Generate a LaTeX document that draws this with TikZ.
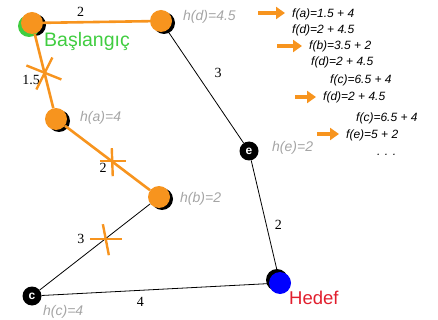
\documentclass[tikz,border=0pt]{standalone}
\usepackage{fontspec}
\setmainfont{Liberation Serif}
\newfontfamily\libsans{Liberation Sans}
\usetikzlibrary{arrows.meta,shadows}

\definecolor{bulborange}{RGB}{247,148,30}
\definecolor{startgreen}{RGB}{64,205,64}
\definecolor{goalred}{RGB}{225,30,45}
\definecolor{hgray}{RGB}{165,165,165}

\begin{document}
\begin{tikzpicture}[x=1pt,y=-1pt,
    openv/.style={circle,fill=bulborange,minimum size=22pt,inner sep=0pt,
        drop shadow={shadow xshift=3pt,shadow yshift=-2pt,fill=black,opacity=1}},
    closedv/.style={circle,fill=black,minimum size=19pt,inner sep=0pt,
        text=white,font=\libsans\bfseries\fontsize{12}{12}\selectfont},
    route/.style={draw=bulborange,line width=2.6pt},
    edge/.style={draw=black,line width=0.8pt},
    cut/.style={draw=bulborange,line width=2.4pt},
    wlabel/.style={font=\fontsize{14}{14}\selectfont,inner sep=1pt},
    hlabel/.style={font=\libsans\itshape\fontsize{14}{14}\selectfont,text=hgray,anchor=west,inner sep=0pt},
    fline/.style={font=\libsans\itshape\fontsize{12}{13}\selectfont,anchor=west,inner sep=0pt},
    farrow/.style={draw=bulborange,line width=4pt,-{Triangle[length=9pt,width=12pt]},shorten >=7pt}
  ]
  \useasboundingbox (0,0) rectangle (438,320);

  % nodes
  \node[openv,drop shadow={shadow xshift=-3pt,shadow yshift=-3pt,fill=startgreen,opacity=1}] (s) at (32,23) {};
  \node[openv] (d) at (161,21) {};
  \node[openv] (a) at (56,119) {};
  \node[openv] (b) at (159,197) {};
  \node[closedv] (c) at (32,296) {c};
  \node[closedv] (e) at (249,151) {e};
  \node[circle,fill=blue,minimum size=22pt,inner sep=0pt,
    drop shadow={shadow xshift=-3pt,shadow yshift=3pt,fill=black,opacity=1}] (g) at (280,283) {};

  % edges
  \draw[edge] (b) -- coordinate[pos=.41] (x3) node[wlabel,pos=.41,left=19pt] {3} (c);
  \draw[edge] (c) -- node[wlabel,pos=.435,below=6pt] {4} (g);
  \draw[edge] (d) -- node[wlabel,pos=.38,right=17pt] {3} (e);
  \draw[edge] (e) -- node[wlabel,pos=.58,right=7pt] {2} (g);
  \draw[route] (s) -- node[wlabel,pos=.35,above=3pt] {2} (d);
  \draw[route] (s) -- coordinate[pos=.52] (x1) node[wlabel,pos=.62,left=4pt] {1.5} (a);
  \draw[route] (a) -- coordinate[pos=.55] (x2) node[wlabel,pos=.45,below=6pt] {2} (b);

  % crossed out
  \draw[cut] (x1) ++(8,-15) -- ++(-16,32);
  \draw[cut] (x1) ++(-18,-7) -- ++(35,14);
  \draw[cut] (x2) ++(-12,0) -- ++(26,0);
  \draw[cut] (x2) ++(0,-13) -- ++(1,28);
  \draw[cut] (x3) ++(-15,0) -- ++(32,0);
  \draw[cut] (x3) ++(-2,-15) -- ++(6,31);

  % labels
  \node[font=\libsans\fontsize{19.5}{20}\selectfont,text=startgreen,anchor=west,inner sep=0pt] (sl) at (44,42) {Başlangıç};
  \node[font=\libsans\fontsize{18.5}{20}\selectfont,text=goalred,anchor=west,inner sep=0pt] (gl) at (289,298) {Hedef};
  \node[hlabel] (hd) at (183,17) {h(d)=4.5};
  \node[hlabel] (ha) at (80,118) {h(a)=4};
  \node[hlabel] (hb) at (180,199) {h(b)=2};
  \node[hlabel] (hc) at (43,312) {h(c)=4};
  \node[hlabel] (he) at (272,148) {h(e)=2};

  % open list
  \node[fline] (fa) at (292,14) {f(a)=1.5 + 4};
  \node[fline] (fd1) at (292,30) {f(d)=2 + 4.5};
  \node[fline] (fb) at (309,46) {f(b)=3.5 + 2};
  \node[fline] (fd2) at (311,62) {f(d)=2 + 4.5};
  \node[fline] (fc1) at (330,80) {f(c)=6.5 + 4};
  \node[fline] (fd3) at (323,97) {f(d)=2 + 4.5};
  \node[fline] (fc2) at (356,118) {f(c)=6.5 + 4};
  \node[fline] (fe) at (346,135) {f(e)=5 + 2};
  \node[fline] (dots) at (377,155) {. . .};
  \coordinate (p1) at (258,13);
  \coordinate (p2) at (277,46);
  \coordinate (p3) at (295,97);
  \coordinate (p4) at (317,134);
  \draw[farrow] (p1) -- (fa.west |- p1);
  \draw[farrow] (p2) -- (fb.west |- p2);
  \draw[farrow] (p3) -- (fd3.west |- p3);
  \draw[farrow] (p4) -- (fe.west |- p4);
\end{tikzpicture}
\end{document}
